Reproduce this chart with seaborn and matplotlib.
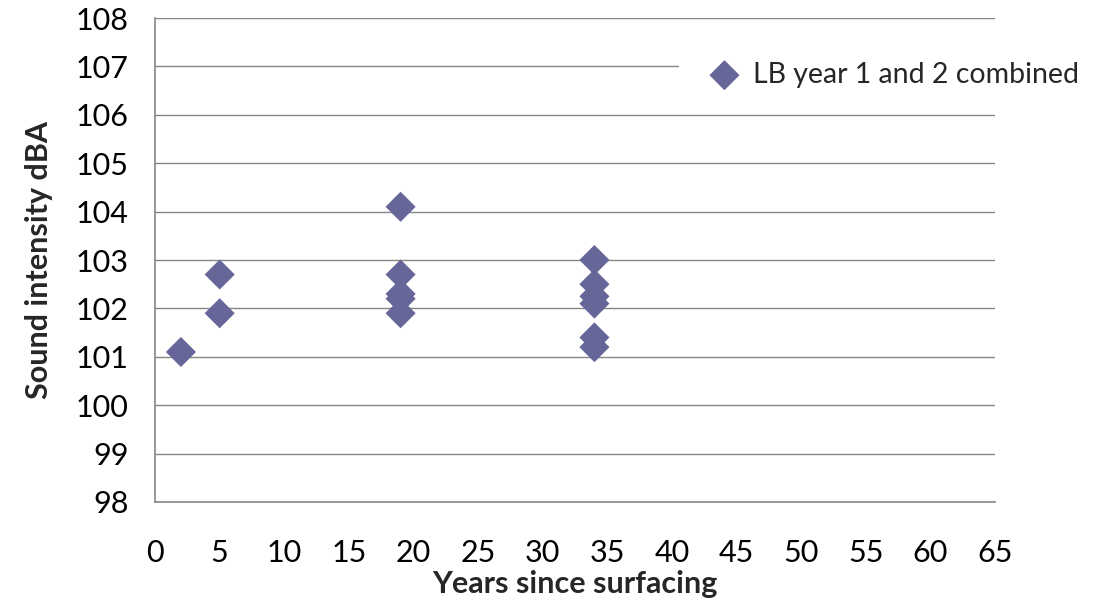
import matplotlib
matplotlib.use('Agg')
import matplotlib.pyplot as plt
import seaborn as sns
import pandas as pd

# data
years = [2, 5, 5, 19, 19, 19, 19, 19, 34, 34, 34, 34, 34, 34]
sound_dba = [101.1, 102.7, 101.9, 104.1, 102.7, 102.3, 102.2, 101.9,
             103.0, 102.5, 102.25, 102.1, 101.4, 101.2]
series_label = 'LB year 1 and 2 combined'
x_ticks = list(range(0, 70, 5))
y_ticks = list(range(98, 109))

df = pd.DataFrame({'years': years, 'dba': sound_dba})

sns.set_style('white')
plt.rcParams['font.family'] = ['Lato', 'DejaVu Sans']

fig = plt.figure(figsize=(10.95, 6.07), dpi=100)
ax = fig.add_axes([0.1416, 0.173, 0.7671, 0.7973])

sns.scatterplot(data=df, x='years', y='dba', marker='D', s=235,
                color='#666699', edgecolor='none', label=series_label,
                ax=ax, zorder=3)

ax.set_xlim(0, 65)
ax.set_ylim(98, 108)
ax.set_xticks(x_ticks)
ax.set_yticks(y_ticks)
ax.yaxis.grid(True, color='#868686', linewidth=1)
ax.set_axisbelow(True)

for s in ['top', 'right']:
    ax.spines[s].set_visible(False)
for s in ['left', 'bottom']:
    ax.spines[s].set_color('#868686')
    ax.spines[s].set_linewidth(1.2)

ax.tick_params(axis='both', direction='out', length=7, width=1,
               color='#868686', labelsize=22, labelcolor='black')
ax.tick_params(axis='x', pad=20)
ax.tick_params(axis='y', pad=12)

ax.set_xlabel('Years since surfacing', fontsize=22, fontweight='bold', labelpad=2)
ax.set_ylabel('Sound intensity dBA', fontsize=22, fontweight='bold', labelpad=16)

leg = ax.legend(loc='center left', bbox_to_anchor=(0.62, 0.877),
                bbox_transform=fig.transFigure, fontsize=20.5, frameon=True,
                handletextpad=0.0, borderpad=0.6, markerscale=1.0,
                borderaxespad=0)
leg.get_frame().set_facecolor('white')
leg.get_frame().set_edgecolor('none')
leg.get_frame().set_alpha(1)
leg.set_zorder(5)

fig.savefig('out.png', dpi=100)
